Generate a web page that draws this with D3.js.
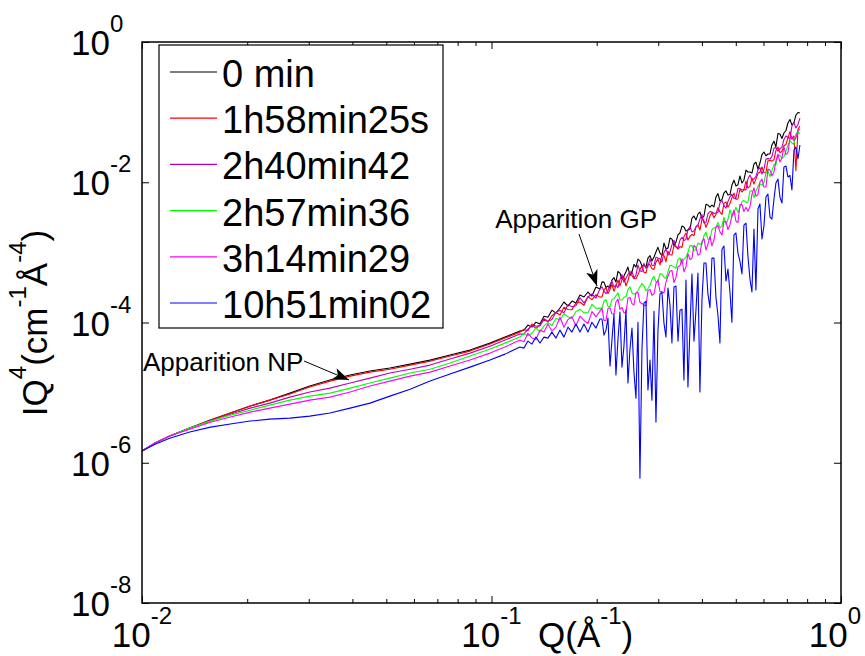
<!DOCTYPE html>
<html>
<head>
<meta charset="utf-8">
<script src="https://cdn.jsdelivr.net/npm/d3@7/dist/d3.min.js"></script>
<style>
  html, body { margin: 0; padding: 0; background: #fff; }
  svg { display: block; font-family: "Liberation Sans", Arial, Helvetica, sans-serif; }
</style>
</head>
<body>
<svg id="chart" width="865" height="656"></svg>
<script>
// ---------------- DATA ----------------
// main Q grid (Å^-1)
const Q = [
  0.0100,0.0109,0.0120,0.0137,0.0157,0.0179,0.0204,0.0232,0.0265,0.0302,0.0345,0.0394,0.0449,0.0512,0.0585,0.0667,0.0761,0.0868,0.0990,0.1093,0.1206,
  0.1238,0.1271,0.1305,0.1340,0.1376,0.1413,0.1450,0.1489,0.1529,0.1570,
  0.1612,0.1655,0.1699,0.1744,0.1791,0.1839,0.1888,0.1938,0.1990,0.2043,
  0.2098,0.2154,0.2211,0.2270,0.2331,0.2393,0.2457,0.2523,0.2590,0.2659,
  0.2730,0.2803,0.2878,0.2955,0.3034,0.3115,0.3198,0.3283,0.3371,0.3461,
  0.3553,0.3648,0.3746,0.3846,0.3948,0.4054,0.4162,0.4273,0.4387,0.4504,
  0.4624,0.4748,0.4874,0.5005,0.5138,0.5275,0.5416,0.5561,0.5709,0.5862,
  0.6018,0.6179,0.6344,0.6513,0.6687,0.6866,0.7049,0.7237,0.7430,0.7629
];
// extra Q points inside the noisy high-Q region
const Qmid = [
  0.2071,0.2126,0.2183,0.2241,0.2301,0.2362,0.2425,0.2490,0.2556,0.2625,
  0.2695,0.2767,0.2841,0.2917,0.2994,0.3074,0.3156,0.3241,0.3327,0.3416,
  0.3507,0.3601,0.3697,0.3796,0.3897,0.4001,0.4108,0.4218,0.4330,0.4446,
  0.4565,0.4687,0.4812,0.4940,0.5072,0.5208,0.5347,0.5489,0.5636,0.5787,
  0.5941,0.6100,0.6263,0.6430,0.6602,0.6778,0.6959,0.7145,0.7336,0.7532
];

const s0min = [
  1.47e-6,1.91e-6,2.40e-6,3.12e-6,4.06e-6,5.11e-6,6.43e-6,7.82e-6,9.84e-6,1.24e-5,1.51e-5,1.78e-5,2.03e-5,2.24e-5,2.55e-5,2.91e-5,3.43e-5,4.04e-5,5.08e-5,6.19e-5,7.54e-5,
  7.79e-5,9.18e-5,8.60e-5,1.01e-4,9.49e-5,1.23e-4,1.19e-4,1.50e-4,1.36e-4,1.61e-4,
  1.96e-4,1.71e-4,2.02e-4,1.89e-4,2.46e-4,2.31e-4,2.72e-4,2.38e-4,3.20e-4,3.00e-4,
  3.77e-4,3.31e-4,4.03e-4,3.77e-4,5.07e-4,4.59e-4,6.17e-4,5.24e-4,6.17e-4,7.52e-4,
  6.59e-4,8.29e-4,7.52e-4,1.01e-3,9.77e-4,1.36e-3,1.15e-3,1.55e-3,1.40e-3,1.89e-3,
  2.30e-3,2.08e-3,3.09e-3,2.89e-3,3.76e-3,3.30e-3,4.73e-3,4.73e-3,6.15e-3,5.40e-3,
  7.02e-3,6.57e-3,9.12e-3,8.83e-3,1.23e-2,1.07e-2,1.40e-2,1.35e-2,1.94e-2,1.88e-2,
  2.70e-2,2.53e-2,3.40e-2,3.18e-2,4.87e-2,5.04e-2,7.00e-2,6.55e-2,9.09e-2,9.71e-2
];
const s0minMid = [
  3.79e-4,3.16e-4,3.09e-4,4.36e-4,5.37e-4,4.17e-4,5.28e-4,4.67e-4,6.76e-4,8.00e-4,
  6.44e-4,6.15e-4,9.00e-4,8.60e-4,1.18e-3,9.09e-4,1.13e-3,1.60e-3,1.25e-3,1.78e-3,
  2.37e-3,2.01e-3,2.15e-3,3.30e-3,3.52e-3,3.05e-3,4.85e-3,4.43e-3,4.46e-3,6.88e-3,
  5.70e-3,7.52e-3,6.68e-3,1.07e-2,9.23e-3,9.74e-3,1.49e-2,1.40e-2,1.82e-2,1.54e-2,
  2.48e-2,2.38e-2,2.53e-2,3.85e-2,4.97e-2,4.20e-2,5.47e-2,7.84e-2,7.10e-2,9.87e-2
];

const s1h58 = [
  1.47e-6,1.91e-6,2.40e-6,3.12e-6,4.06e-6,5.11e-6,6.43e-6,7.82e-6,9.53e-6,1.20e-5,1.46e-5,1.72e-5,1.96e-5,2.16e-5,2.47e-5,2.81e-5,3.32e-5,3.91e-5,4.92e-5,6.00e-5,7.29e-5,
  7.97e-5,7.64e-5,9.52e-5,8.83e-5,9.03e-5,1.11e-4,1.02e-4,1.25e-4,1.39e-4,1.28e-4,
  1.65e-4,1.53e-4,1.52e-4,1.90e-4,1.96e-4,1.76e-4,2.35e-4,2.12e-4,2.48e-4,2.30e-4,
  2.92e-4,2.59e-4,3.50e-4,3.31e-4,3.33e-4,4.47e-4,3.94e-4,4.64e-4,4.22e-4,5.67e-4,
  5.21e-4,6.88e-4,5.88e-4,7.25e-4,6.63e-4,9.00e-4,1.04e-3,9.15e-4,1.20e-3,1.21e-3,
  1.67e-3,1.50e-3,1.80e-3,2.32e-3,2.08e-3,2.82e-3,2.65e-3,3.71e-3,3.50e-3,3.76e-3,
  4.95e-3,4.40e-3,5.99e-3,5.69e-3,8.00e-3,7.77e-3,8.26e-3,1.15e-2,1.11e-2,1.39e-2,
  1.38e-2,2.02e-2,2.00e-2,2.84e-2,2.64e-2,3.31e-2,4.28e-2,4.10e-2,1.46e-2,6.34e-2
];
const s1h58Mid = [
  2.31e-4,3.13e-4,2.96e-4,2.79e-4,4.04e-4,4.06e-4,3.33e-4,5.12e-4,4.20e-4,4.81e-4,
  6.51e-4,5.07e-4,6.68e-4,5.72e-4,8.03e-4,9.39e-4,7.30e-4,9.27e-4,1.25e-3,1.11e-3,
  1.17e-3,1.89e-3,1.70e-3,1.73e-3,2.46e-3,2.95e-3,2.28e-3,3.30e-3,3.10e-3,4.34e-3,
  3.49e-3,5.24e-3,4.97e-3,7.00e-3,5.82e-3,7.25e-3,1.04e-2,8.83e-3,9.39e-3,1.34e-2,
  1.65e-2,1.39e-2,2.04e-2,2.09e-2,3.17e-2,2.76e-2,3.46e-2,5.28e-2,4.56e-2,5.69e-2
];

const s2h40 = [
  1.47e-6,1.91e-6,2.40e-6,3.12e-6,3.93e-6,4.93e-6,6.01e-6,7.08e-6,8.63e-6,1.02e-5,1.16e-5,1.37e-5,1.61e-5,1.90e-5,2.16e-5,2.47e-5,3.01e-5,3.66e-5,4.60e-5,5.61e-5,6.84e-5,
  6.83e-5,8.03e-5,9.12e-5,8.27e-5,9.09e-5,1.13e-4,1.04e-4,1.10e-4,1.40e-4,1.48e-4,
  1.38e-4,1.80e-4,1.67e-4,1.73e-4,2.24e-4,1.90e-4,2.31e-4,2.55e-4,2.23e-4,3.00e-4,
  2.83e-4,2.86e-4,3.89e-4,3.44e-4,4.11e-4,3.74e-4,4.87e-4,5.40e-4,4.74e-4,5.45e-4,
  6.97e-4,6.21e-4,6.51e-4,8.54e-4,8.08e-4,9.95e-4,9.12e-4,1.28e-3,1.21e-3,1.50e-3,
  1.48e-3,2.11e-3,1.96e-3,2.30e-3,2.99e-3,2.62e-3,3.53e-3,3.77e-3,3.65e-3,5.09e-3,
  4.64e-3,5.32e-3,6.77e-3,5.97e-3,8.08e-3,7.82e-3,1.11e-2,1.08e-2,1.20e-2,1.62e-2,
  1.52e-2,2.17e-2,2.32e-2,3.12e-2,3.01e-2,4.07e-2,4.37e-2,6.30e-2,5.93e-2,8.22e-2
];
const s2h40Mid = [
  3.21e-4,2.57e-4,3.50e-4,3.20e-4,3.14e-4,4.84e-4,4.26e-4,5.21e-4,4.29e-4,6.61e-4,
  5.30e-4,5.95e-4,8.13e-4,6.53e-4,8.29e-4,7.25e-4,1.12e-3,1.03e-3,1.49e-3,1.16e-3,
  1.64e-3,1.53e-3,2.32e-3,2.02e-3,2.45e-3,3.46e-3,2.66e-3,3.83e-3,3.59e-3,3.71e-3,
  5.53e-3,4.28e-3,6.19e-3,5.86e-3,8.19e-3,7.82e-3,7.79e-3,1.27e-2,1.12e-2,1.51e-2,
  1.31e-2,2.14e-2,2.14e-2,3.07e-2,2.77e-2,3.17e-2,4.57e-2,4.16e-2,7.08e-2,6.66e-2
];

const s2h57 = [
  1.47e-6,1.91e-6,2.40e-6,3.12e-6,3.93e-6,4.78e-6,5.62e-6,6.64e-6,7.82e-6,8.91e-6,9.84e-6,1.16e-5,1.37e-5,1.61e-5,1.90e-5,2.16e-5,2.64e-5,3.32e-5,4.18e-5,5.08e-5,6.19e-5,
  6.97e-5,6.44e-5,7.02e-5,8.43e-5,7.30e-5,8.94e-5,9.95e-5,9.06e-5,1.15e-4,1.08e-4,
  1.33e-4,1.21e-4,1.14e-4,1.44e-4,1.55e-4,1.37e-4,1.38e-4,1.81e-4,1.59e-4,1.61e-4,
  2.01e-4,1.70e-4,2.12e-4,2.41e-4,2.10e-4,2.29e-4,2.95e-4,2.64e-4,2.61e-4,3.24e-4,
  3.35e-4,3.05e-4,4.12e-4,3.77e-4,4.97e-4,4.42e-4,5.27e-4,6.48e-4,5.95e-4,8.35e-4,
  8.03e-4,1.00e-3,1.25e-3,1.12e-3,1.31e-3,1.73e-3,1.54e-3,2.10e-3,2.28e-3,2.24e-3,
  3.17e-3,2.94e-3,3.20e-3,4.40e-3,4.34e-3,5.50e-3,5.21e-3,7.54e-3,7.42e-3,9.49e-3,
  9.90e-3,1.48e-2,1.45e-2,1.78e-2,2.42e-2,2.30e-2,3.36e-2,3.63e-2,4.87e-2,4.87e-2
];
const s2h57Mid = [
  1.60e-4,2.14e-4,1.69e-4,2.19e-4,2.65e-4,2.09e-4,2.35e-4,3.23e-4,2.53e-4,2.86e-4,
  3.58e-4,2.84e-4,3.37e-4,4.56e-4,3.79e-4,4.92e-4,4.23e-4,6.55e-4,6.21e-4,7.89e-4,
  6.83e-4,8.51e-4,1.25e-3,1.05e-3,1.36e-3,1.30e-3,1.95e-3,1.53e-3,2.23e-3,2.66e-3,
  2.37e-3,2.50e-3,4.06e-3,3.63e-3,3.71e-3,5.30e-3,5.17e-3,7.52e-3,6.03e-3,8.79e-3,
  9.06e-3,1.36e-2,1.20e-2,1.80e-2,2.37e-2,2.17e-2,2.78e-2,3.91e-2,3.45e-2,5.28e-2
];

const s3h14 = [
  1.47e-6,1.91e-6,2.40e-6,3.01e-6,3.79e-6,4.48e-6,5.27e-6,6.01e-6,6.85e-6,7.82e-6,8.63e-6,1.02e-5,1.24e-5,1.46e-5,1.72e-5,1.96e-5,2.39e-5,2.91e-5,3.66e-5,4.46e-5,5.61e-5,
  5.32e-5,7.02e-5,6.03e-5,5.72e-5,7.79e-5,7.30e-5,9.49e-5,7.54e-5,8.60e-5,1.19e-4,
  8.54e-5,1.10e-4,1.21e-4,8.94e-5,1.23e-4,1.07e-4,9.68e-5,1.43e-4,1.20e-4,1.45e-4,
  1.07e-4,1.58e-4,1.33e-4,1.96e-4,1.54e-4,1.38e-4,2.22e-4,1.86e-4,2.63e-4,1.93e-4,
  1.75e-4,2.85e-4,2.45e-4,3.60e-4,2.75e-4,2.64e-4,4.57e-4,5.53e-4,4.36e-4,6.42e-4,
  5.30e-4,9.61e-4,8.20e-4,1.18e-3,9.42e-4,1.57e-3,1.31e-3,1.24e-3,2.28e-3,1.96e-3,
  2.78e-3,2.11e-3,3.31e-3,2.78e-3,4.79e-3,3.83e-3,3.87e-3,6.70e-3,6.32e-3,1.01e-2,
  8.54e-3,1.54e-2,1.23e-2,2.01e-2,1.94e-2,3.20e-2,2.64e-2,4.50e-2,4.25e-2,5.74e-2
];
const s3h14Mid = [
  1.60e-4,1.07e-4,1.63e-4,1.32e-4,2.15e-4,1.64e-4,1.37e-4,2.28e-4,1.78e-4,2.70e-4,
  1.87e-4,1.74e-4,2.97e-4,2.56e-4,4.03e-4,2.74e-4,3.77e-4,5.37e-4,3.71e-4,6.23e-4,
  8.11e-4,6.25e-4,7.92e-4,1.26e-3,9.12e-4,1.44e-3,1.08e-3,1.69e-3,1.50e-3,2.41e-3,
  1.77e-3,2.76e-3,2.48e-3,4.00e-3,2.67e-3,4.81e-3,4.39e-3,4.46e-3,8.33e-3,6.66e-3,
  1.11e-2,8.54e-3,1.49e-2,1.40e-2,2.53e-2,2.22e-2,2.47e-2,4.27e-2,3.96e-2,5.53e-2
];

const s10h51 = [
  1.47e-6,1.84e-6,2.24e-6,2.74e-6,3.22e-6,3.56e-6,3.93e-6,4.19e-6,4.33e-6,4.62e-6,5.11e-6,6.01e-6,7.08e-6,8.91e-6,1.12e-5,1.46e-5,1.84e-5,2.31e-5,2.91e-5,3.54e-5,4.46e-5,
  4.31e-5,5.43e-5,4.92e-5,6.19e-5,5.09e-5,6.19e-5,5.99e-5,7.30e-5,5.99e-5,7.79e-5,
  6.19e-5,8.60e-5,7.30e-5,9.49e-5,7.30e-5,9.49e-5,7.30e-5,1.01e-4,8.33e-5,1.12e-4,
  6.61e-5,1.16e-4,5.61e-5,1.78e-5,1.41e-4,4.61e-5,1.37e-5,8.33e-5,8.35e-6,6.03e-7,
  1.89e-4,1.09e-5,7.81e-6,3.80e-6,2.54e-4,9.81e-5,3.10e-4,5.09e-5,3.31e-4,1.50e-4,
  1.51e-5,1.20e-5,4.91e-4,1.50e-4,1.02e-5,7.05e-4,2.54e-4,8.29e-4,2.30e-4,5.09e-5,
  1.23e-3,5.78e-4,1.01e-4,1.89e-3,7.52e-4,2.45e-3,8.86e-4,2.72e-4,2.90e-4,4.89e-3,
  2.37e-3,6.79e-3,2.99e-3,9.74e-3,6.15e-3,1.65e-2,1.19e-2,7.75e-3,3.18e-2,3.40e-2
];
const s10h51Mid = [
  1.12e-4,7.79e-5,2.39e-5,1.32e-4,5.80e-5,2.31e-5,1.50e-4,4.18e-5,1.96e-5,1.01e-4,
  4.25e-5,2.02e-4,2.91e-5,1.45e-4,7.54e-5,2.72e-4,6.19e-5,1.77e-4,3.20e-4,5.43e-5,
  1.55e-4,4.03e-4,8.19e-5,5.43e-5,5.07e-4,2.09e-4,7.05e-4,1.63e-4,8.29e-4,1.27e-4,
  1.11e-3,3.90e-4,2.72e-4,1.77e-3,9.77e-4,4.91e-4,2.62e-3,4.16e-4,2.15e-3,4.15e-3,
  1.55e-3,6.15e-3,3.19e-3,5.77e-3,1.11e-2,5.05e-3,1.70e-2,1.25e-2,2.88e-2,2.16e-2
];

const seriesNames = ["0 min", "1h58min25s", "2h40min42", "2h57min36", "3h14min29", "10h51min02"];
const seriesValues = [s0min, s1h58, s2h40, s2h57, s3h14, s10h51];
const seriesMidValues = [s0minMid, s1h58Mid, s2h40Mid, s2h57Mid, s3h14Mid, s10h51Mid];
const seriesColors = ["#000000", "#ff0000", "#bf00bf", "#00ff00", "#ff00ff", "#0000ff"];

const xMajorTicks = [0.01, 0.1, 1];
const xTickExponents = ["-2", "-1", "0"];
const yMajorTicks = [1e-8, 1e-6, 1e-4, 1e-2, 1];
const yTickExponents = ["-8", "-6", "-4", "-2", "0"];

// ---------------- LAYOUT ----------------
const W = 865, H = 656;
const L = 142, R = 841, T = 42, B = 603;
const svg = d3.select("#chart");
svg.append("rect").attr("width", W).attr("height", H).attr("fill", "#fff");

const x = d3.scaleLog().domain([0.01, 1]).range([L, R]);
const y = d3.scaleLog().domain([1e-8, 1]).range([B, T]);

const defs = svg.append("defs");
defs.append("clipPath").attr("id", "plotclip")
  .append("rect").attr("x", L).attr("y", T).attr("width", R - L).attr("height", B - T);

// minor x ticks
const xMinor = [];
[0.01, 0.1].forEach(d => { for (let k = 2; k <= 9; k++) xMinor.push(d * k); });

function tickGroup(axis, tx, ty) {
  const g = svg.append("g").attr("transform", `translate(${tx},${ty})`).call(axis);
  g.select(".domain").remove();
  g.selectAll("text").remove();
  g.selectAll("line").attr("stroke", "#000").attr("stroke-width", 1);
  return g;
}
tickGroup(d3.axisBottom(x).tickValues(xMajorTicks).tickSize(-7), 0, B);
tickGroup(d3.axisBottom(x).tickValues(xMinor).tickSize(-4), 0, B);
tickGroup(d3.axisTop(x).tickValues(xMajorTicks).tickSize(-7), 0, T);
tickGroup(d3.axisTop(x).tickValues(xMinor).tickSize(-4), 0, T);
tickGroup(d3.axisLeft(y).tickValues(yMajorTicks).tickSize(-7), L, 0);
tickGroup(d3.axisRight(y).tickValues(yMajorTicks).tickSize(-7), R, 0);

// lines (main grid merged with extra high-Q points, sorted by Q)
const line = d3.line().x(d => x(d[0])).y(d => y(d[1]));
const plot = svg.append("g").attr("clip-path", "url(#plotclip)");
seriesValues.forEach((vals, k) => {
  const pts = Q.map((q, i) => [q, vals[i]])
    .concat(Qmid.map((q, i) => [q, seriesMidValues[k][i]]))
    .sort((a, b) => a[0] - b[0]);
  plot.append("path").datum(pts)
    .attr("d", line)
    .attr("fill", "none")
    .attr("stroke", seriesColors[k])
    .attr("stroke-width", 1.1)
    .attr("stroke-linejoin", "round");
});

// frame
svg.append("rect").attr("x", L).attr("y", T).attr("width", R - L).attr("height", B - T)
  .attr("fill", "none").attr("stroke", "#000").attr("stroke-width", 1.5);

// y tick labels
yMajorTicks.forEach((v, i) => {
  const t = svg.append("text").attr("x", 71).attr("y", y(v) + 13)
    .attr("font-size", 35).attr("fill", "#000");
  t.append("tspan").text("10");
  t.append("tspan").attr("font-size", 24).attr("dy", -23).text(yTickExponents[i]);
});

// x tick labels
xMajorTicks.forEach((v, i) => {
  const t = svg.append("text").attr("x", x(v) - (i === 2 ? 6 : 0)).attr("y", 647)
    .attr("text-anchor", "middle").attr("font-size", 35).attr("fill", "#000");
  t.append("tspan").text("10");
  t.append("tspan").attr("font-size", 24).attr("dy", -23).text(xTickExponents[i]);
});

// x axis label
const xl = svg.append("text").attr("x", 538).attr("y", 647).attr("font-size", 35).attr("fill", "#000");
xl.append("tspan").text("Q(Å");
xl.append("tspan").attr("font-size", 24).attr("dy", -23).text("-1");
xl.append("tspan").attr("dy", 23).text(")");

// y axis label
const yl = svg.append("text").attr("transform", "translate(47,323) rotate(-90)")
  .attr("text-anchor", "middle").attr("font-size", 35).attr("fill", "#000");
yl.append("tspan").text("IQ");
yl.append("tspan").attr("font-size", 24).attr("dy", -21).text("4");
yl.append("tspan").attr("dy", 21).text("(cm");
yl.append("tspan").attr("font-size", 24).attr("dy", -21).text("-1");
yl.append("tspan").attr("dy", 21).text("Å");
yl.append("tspan").attr("font-size", 24).attr("dy", -21).text("-4");
yl.append("tspan").attr("dy", 21).text(")");

// legend
const lg = svg.append("g");
lg.append("rect").attr("x", 159).attr("y", 45).attr("width", 284).attr("height", 283)
  .attr("fill", "#fff").attr("stroke", "#000").attr("stroke-width", 1.2);
seriesNames.forEach((name, k) => {
  const yy = 72 + k * 46.2;
  lg.append("line").attr("x1", 170).attr("x2", 217).attr("y1", yy).attr("y2", yy)
    .attr("stroke", seriesColors[k]).attr("stroke-width", 1.2);
  lg.append("text").attr("x", 222).attr("y", yy + 15).attr("font-size", 38).attr("fill", "#000").text(name);
});

// annotations
defs.append("marker").attr("id", "arrowhead").attr("markerUnits", "userSpaceOnUse")
  .attr("markerWidth", 18).attr("markerHeight", 14).attr("refX", 16).attr("refY", 6)
  .attr("orient", "auto")
  .append("path").attr("d", "M0,0 L16,6 L0,12 L4,6 Z").attr("fill", "#000");

svg.append("text").attr("x", 143).attr("y", 371).attr("font-size", 26).attr("fill", "#000").text("Apparition NP");
svg.append("line").attr("x1", 304).attr("y1", 361).attr("x2", 349).attr("y2", 380)
  .attr("stroke", "#000").attr("stroke-width", 1).attr("marker-end", "url(#arrowhead)");

svg.append("text").attr("x", 657).attr("y", 228).attr("text-anchor", "end").attr("font-size", 26).attr("fill", "#000").text("Apparition GP");
svg.append("line").attr("x1", 579).attr("y1", 234).attr("x2", 597).attr("y2", 286)
  .attr("stroke", "#000").attr("stroke-width", 1).attr("marker-end", "url(#arrowhead)");
</script>
</body>
</html>
